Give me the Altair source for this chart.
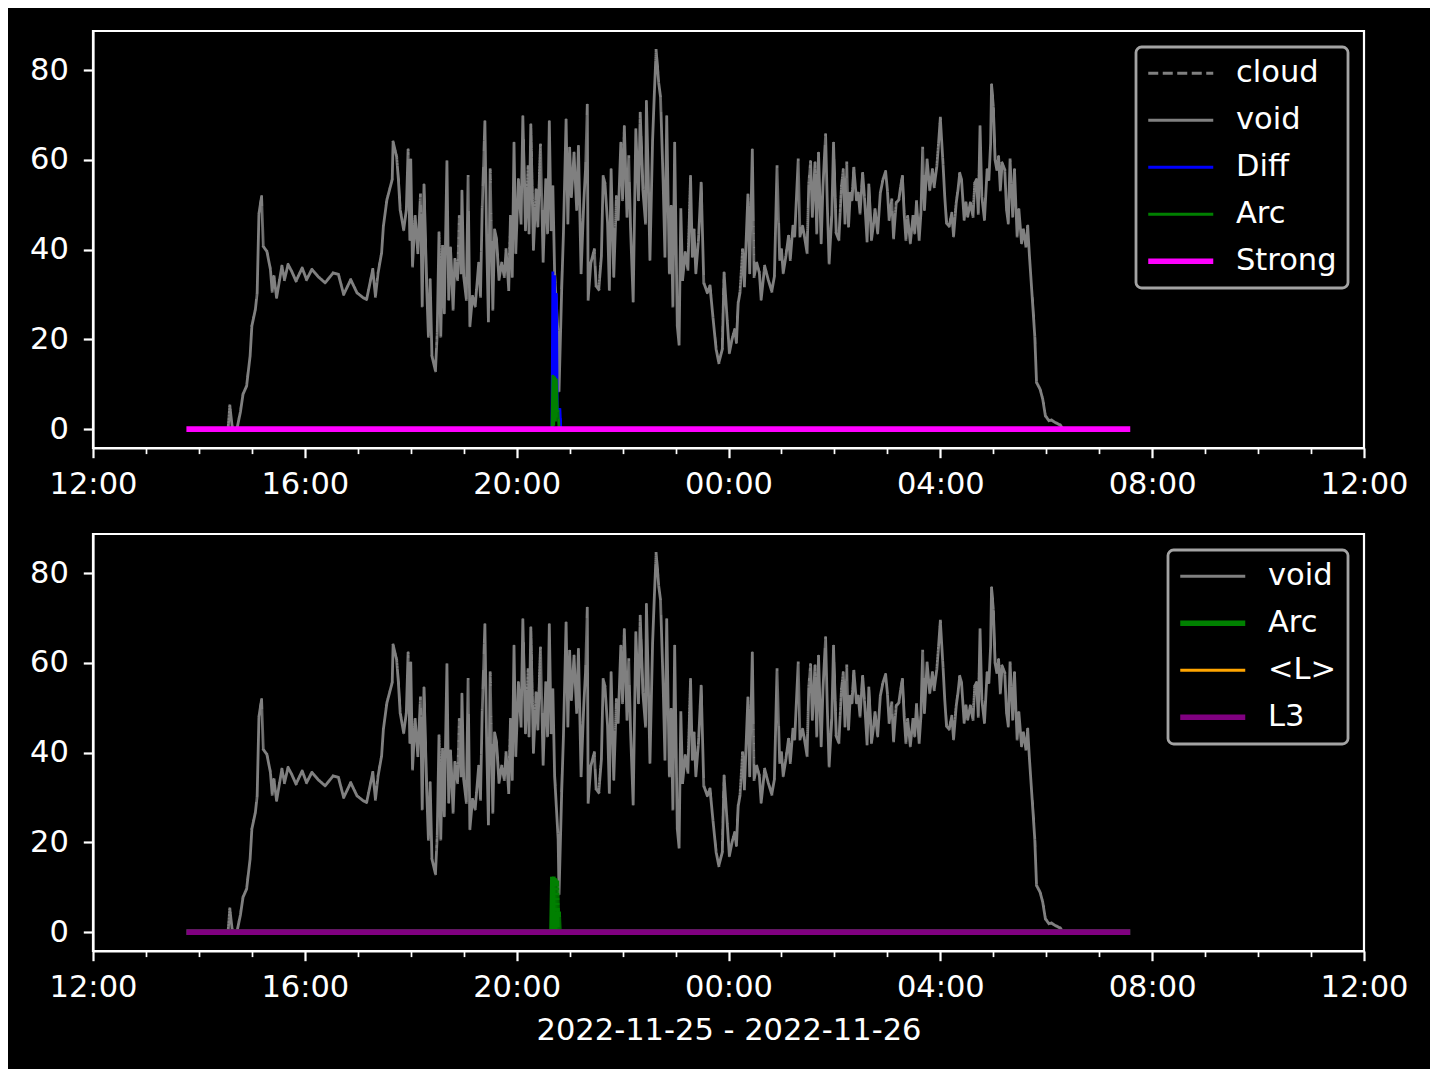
import altair as alt
import pandas as pd

BASE = "2022-11-25 12:00"

# minutes after 2022-11-25 12:00 and the "void" values
void_min = [109, 153, 155, 158, 163, 167, 170, 174, 178, 180, 184, 186, 188, 191, 193, 197, 201, 203, 205, 208,
            214, 217, 221, 225, 230, 237, 242, 248, 255, 263, 272, 278, 284, 292, 299, 306, 310, 317, 320, 323,
            327, 329, 333, 339, 340, 344, 346, 348, 352, 355, 357, 359, 360, 362, 365, 368, 371, 373, 375, 378,
            380, 382, 384, 388, 390, 392, 394, 396, 398, 401, 403, 405, 408, 410, 413, 415, 417, 418, 420, 423,
            425, 427, 430, 433, 437, 439, 441, 444, 446, 448, 450, 453, 455, 457, 460, 463, 466, 468, 471, 473,
            475, 477, 479, 482, 485, 487, 490, 493, 494, 496, 499, 502, 504, 507, 510, 513, 515, 517, 519, 521,
            523, 527, 528, 531, 533, 536, 538, 540, 542, 545, 548, 550, 553, 556, 558, 560, 561, 564, 568, 570,
            573, 576, 578, 580, 583, 585, 587, 590, 593, 595, 598, 600, 602, 605, 607, 609, 612, 615, 618, 620,
            623, 626, 627, 629, 631, 634, 636, 638, 641, 643, 646, 648, 650, 653, 655, 657, 659, 662, 664, 666,
            668, 671, 674, 677, 679, 681, 683, 686, 689, 692, 696, 699, 703, 706, 709, 713, 715, 718, 721, 724,
            727, 729, 731, 733, 736, 738, 742, 744, 747, 749, 752, 755, 757, 761, 765, 769, 772, 775, 778, 780,
            782, 785, 788, 790, 793, 795, 796, 799, 801, 804, 806, 809, 811, 813, 815, 818, 820, 822, 825, 827,
            830, 832, 834, 837, 839, 842, 845, 848, 850, 852, 854, 856, 858, 860, 862, 865, 867, 869, 872, 874,
            877, 879, 882, 884, 886, 889, 892, 895, 898, 900, 902, 905, 907, 910, 913, 915, 917, 919, 921, 923,
            926, 929, 931, 933, 936, 938, 940, 942, 945, 948, 951, 953, 956, 958, 960, 963, 965, 967, 970, 973,
            975, 978, 980, 982, 984, 987, 989, 991, 994, 997, 999, 1001, 1003, 1005, 1007, 1010, 1013, 1015, 1017, 1018,
            1020, 1022, 1024, 1026, 1028, 1030, 1033, 1035, 1037, 1039, 1042, 1044, 1047, 1049, 1052, 1054, 1057, 1059, 1061, 1063,
            1065, 1067, 1069, 1073, 1076, 1079, 1083, 1086, 1090, 1096, 1099, 1172]
void_val = [0, 0, 5.2, 0, 0, 3.8, 7.8, 9.6, 16.3, 23, 26.7, 30.4, 48, 51.8, 40.7, 39.6, 35.6, 30.7, 34, 29.3,
            36.3, 33.3, 36.7, 35.2, 33, 35.9, 33.3, 35.6, 34, 32.6, 34.8, 34.5, 30, 33.3, 30.4, 29.3, 28.9, 35.6, 29.6, 34.8,
            39.3, 45.2, 51.1, 55.6, 64, 60.7, 55.6, 48.9, 44.4, 48.9, 62.2, 42.2, 60, 36.3, 47.4, 39.3, 52.2, 27.4, 54.4, 31.9,
            20.7, 33.3, 16.3, 13, 21.5, 43.7, 20.7, 40.7, 25.9, 59.6, 28.9, 40.4, 26.7, 37.8, 33.3, 47.4, 34.8, 53, 34, 28.9,
            56.3, 23, 29.6, 27.4, 37, 29.6, 49.6, 68.5, 42.2, 24.1, 57.8, 26.7, 44.4, 42.6, 33.3, 37, 34, 40, 31.1, 47.4,
            34, 63.7, 39.3, 55.6, 45.9, 69.6, 44.4, 58.5, 43.7, 67.8, 40, 53.3, 45.2, 63.3, 37.4, 55.6, 43.7, 68.5, 44.4, 54,
            34.8, 20.7, 8.5, 31.1, 43.7, 68.9, 45.9, 62.6, 51.8, 61.5, 48.9, 63, 34.8, 50.4, 57.8, 72.2, 28.9, 37, 40, 31.9,
            31.1, 38.5, 56.3, 54.8, 45.9, 31.1, 57.8, 34, 51.8, 46.7, 63.7, 51.1, 67.4, 47.4, 60.7, 45, 28.5, 66.7, 51.1, 70.4,
            53.3, 45.9, 73, 57, 37.8, 64.4, 74.8, 84.4, 77, 74, 54.8, 38.5, 69.6, 34.8, 49.6, 27.4, 63.7, 23, 18.9, 48.9,
            33.3, 39.3, 35.6, 56.3, 38.5, 44.4, 34.8, 42.2, 54.8, 32.6, 30.4, 31.9, 23.7, 17.8, 14.8, 17.8, 34.8, 25.9, 17, 20,
            22.2, 19.3, 28.1, 30.4, 40, 31.9, 52.2, 34.8, 62.2, 34, 37, 34.8, 28.9, 36.3, 33.3, 30.7, 34, 58.5, 37.8, 40,
            34.8, 38.5, 43, 37.8, 45.2, 43, 47.4, 60, 43, 45.2, 43, 39.3, 54.8, 59.6, 47.4, 59.3, 43.7, 61.5, 41.5, 54,
            65.6, 49.6, 37, 47.4, 63.7, 43.7, 42.2, 54, 57.8, 45.9, 59.3, 45.2, 52.6, 51.1, 58.1, 51.1, 52.6, 48.1, 57, 51.8,
            41.9, 54.4, 42.2, 45.2, 48.9, 43.7, 52.6, 55.6, 57.4, 53.3, 46.7, 51.1, 42.6, 50.4, 51.1, 54, 56.3, 48.1, 42.2, 47.4,
            41.5, 47.4, 43.7, 50.7, 42.2, 48.1, 62.6, 48.9, 60, 53.3, 57.8, 54, 58.5, 63.7, 69.3, 59.3, 51.8, 45.9, 45.2, 48.1,
            43, 50.4, 53.3, 57, 55.6, 46.7, 50.4, 47.4, 50.4, 47.4, 54.8, 55.6, 48.1, 67.4, 51.8, 46.7, 57.8, 55.6, 63.7, 76.7,
            71.9, 60, 57.8, 60.7, 53.3, 59.3, 57.8, 48.9, 45.9, 60, 47.4, 57.8, 43, 48.9, 41.5, 44.4, 40.7, 45.2, 38.5, 32.6,
            26.7, 20.7, 10.4, 8.9, 6.7, 3, 1.9, 2, 1.5, 0.9, 0, 0]

diff_min = [109, 520, 521, 522, 523, 524, 525, 526, 529, 530, 1172]
diff_val = [0, 0, 34.8, 3, 34, 4, 30, 4.4, 4.4, 0, 0]

arc_min = [109, 520, 521, 522, 523, 524, 525, 526, 527, 528, 1172]
arc_val = [0, 0, 11.8, 1, 11.5, 2, 11, 4, 4, 0, 0]

flat_min = [109, 1172]
flat_val = [0, 0]

top_names = ["cloud", "void", "Diff", "Arc", "Strong"]
top_colors = ["#808080", "#808080", "#0000ff", "#008000", "#ff00ff"]
top_widths = [2.8, 2.8, 2.8, 2.8, 5.6]
top_dashed = ["cloud"]

bot_names = ["void", "Arc", "<L>", "L3"]
bot_colors = ["#808080", "#008000", "#ffa500", "#800080"]
bot_widths = [2.8, 5.6, 2.8, 5.6]
bot_dashed = []

x_title = "2022-11-25 - 2022-11-26"
y_ticks = [0, 20, 40, 60, 80]
hour_offsets = list(range(0, 25))
y_domain = [-4.2, 88.7]

FONT = 30.5


def frame(name, mins, vals):
    return pd.DataFrame({
        "t": pd.Timestamp(BASE) + pd.to_timedelta(mins, unit="m"),
        "v": vals,
        "s": name,
    })


def dt(h):
    ts = pd.Timestamp(BASE) + pd.Timedelta(hours=h)
    return alt.DateTime(year=ts.year, month=ts.month, date=ts.day, hours=ts.hour)


MAJOR = "hours(datum.value) % 4 == 0"


def x_axis(title):
    return alt.Axis(
        values=[dt(h) for h in hour_offsets],
        labelExpr=f"{MAJOR} ? timeFormat(datum.value, '%H:%M') : ''",
        tickSize={"condition": {"test": MAJOR, "value": 9.7}, "value": 5.6},
        tickWidth={"condition": {"test": MAJOR, "value": 2.2}, "value": 1.7},
        labelOverlap=False,
        labelFlush=False,
        grid=False,
        labelPadding=12,
        title=title,
        titlePadding=12,
    )


y_axis = alt.Axis(values=y_ticks, title=None, grid=False, tickSize=9.7, tickWidth=2.2,
                  labelPadding=15, minExtent=83, maxExtent=83)


def panel(names, colors, widths, dashed, data, title):
    thick = [n for n, w in zip(names, widths) if w > 3]
    legend = alt.Legend(
        title=None, orient="top-right", offset=16, symbolType="stroke", symbolSize=4225,
        symbolOffset=18.5, labelOffset=40, rowPadding=16, padding=11,
        symbolStrokeWidth={"expr": f"indexof({thick}, datum.value) >= 0 ? 5.6 : 2.8"},
        symbolDash={"expr": f"indexof({dashed}, datum.value) >= 0 ? [10, 4.5] : [1, 0]"},
    )
    layers = []
    for n, w in zip(names, widths):
        mins, vals = data[n]
        df = frame(n, mins, vals)
        dash = [10, 4.5] if n in dashed else [1, 0]
        layers.append(
            alt.Chart(df).mark_line(strokeWidth=w, strokeDash=dash, clip=True,
                                    strokeJoin="round", strokeCap="square").encode(
                x=alt.X("t:T", scale=alt.Scale(domain=[dt(0), dt(24)]), axis=x_axis(title)),
                y=alt.Y("v:Q", scale=alt.Scale(domain=y_domain, nice=False, zero=False), axis=y_axis),
                color=alt.Color("s:N", scale=alt.Scale(domain=names, range=colors), legend=legend),
            )
        )
    return alt.layer(*layers).properties(width=1271, height=417)


top_data = {"cloud": (flat_min, flat_val), "void": (void_min, void_val), "Diff": (diff_min, diff_val),
            "Arc": (arc_min, arc_val), "Strong": (flat_min, flat_val)}
bot_data = {"void": (void_min, void_val), "Arc": (arc_min, arc_val), "<L>": (flat_min, flat_val),
            "L3": (flat_min, flat_val)}

top = panel(top_names, top_colors, top_widths, top_dashed, top_data, None)
bottom = panel(bot_names, bot_colors, bot_widths, bot_dashed, bot_data, x_title)

chart = (
    alt.vconcat(top, bottom, spacing=86, bounds="flush")
    .resolve_scale(color="independent")
    .properties(padding={"left": 0, "top": 21, "right": 20, "bottom": 22})
    .configure(background="black")
    .configure_view(stroke="white", strokeWidth=2.2)
    .configure_axis(domainColor="white", domainWidth=2.2, tickColor="white", labelColor="white",
                    titleColor="white", labelFont="DejaVu Sans", titleFont="DejaVu Sans",
                    labelFontSize=FONT, titleFontSize=FONT, titleFontWeight="normal")
    .configure_legend(labelFont="DejaVu Sans", labelFontSize=FONT, labelColor="white",
                      fillColor="#000000", strokeColor="#a3a3a3", strokeWidth=2.8, cornerRadius=5.6)
)

chart.save("out.html", embed_options={"renderer": "svg", "actions": False})
